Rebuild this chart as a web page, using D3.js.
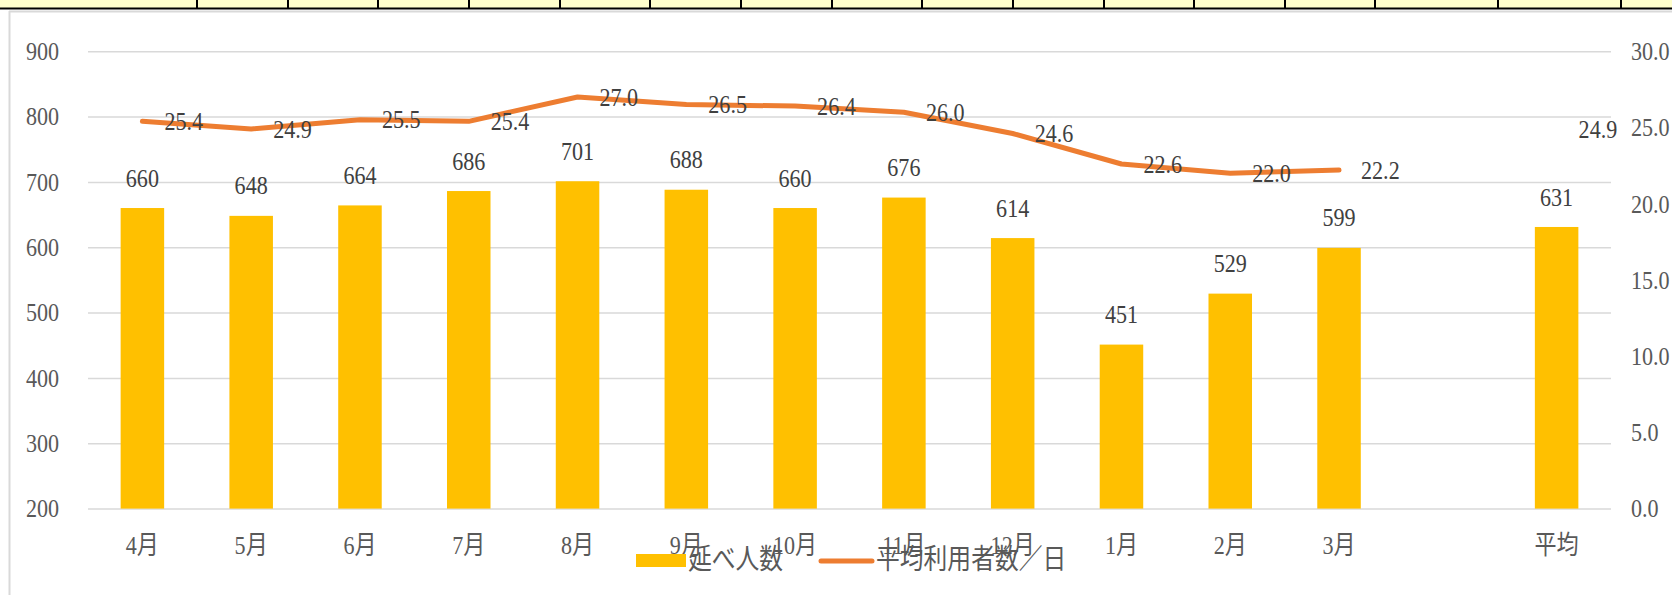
<!DOCTYPE html>
<html><head><meta charset="utf-8">
<script src="https://cdn.jsdelivr.net/npm/d3@7"></script>
<style>
html,body{margin:0;padding:0;background:#fff;}
svg{display:block;}
text{font-family:"Liberation Serif","Noto Sans CJK JP",serif;}
</style></head>
<body>
<svg id="c" width="1672" height="595"></svg>
<script>
const categories = ["4月","5月","6月","7月","8月","9月","10月","11月","12月","1月","2月","3月","","平均"];
const totals = [660,648,664,686,701,688,660,676,614,451,529,599,null,631];
const perDay = [25.4,24.9,25.5,25.4,27.0,26.5,26.4,26.0,24.6,22.6,22.0,22.2,null,24.9];
const leftTicks = [200,300,400,500,600,700,800,900];
const rightTicks = [0,5,10,15,20,25,30];
const seriesNames = ["延べ人数","平均利用者数／日"];
const cellDividers = [197,288,378,469,560,650,741,832,922,1013,1104,1194,1285,1375,1498,1621];

const svg = d3.select("#c");
const W = 1672, H = 595;
const m = {l:88, r:1611, t:51.2, b:508.6};
const fs = 26, sx = 0.85;

function condense(sel){
  sel.each(function(){
    const t = d3.select(this);
    const x = +t.attr("x") || 0, y = +t.attr("y") || 0;
    t.attr("transform",`translate(${x},${y}) scale(${sx},1) translate(${-x},${-y})`);
  });
}

// spreadsheet strip on top
svg.append("rect").attr("x",0).attr("y",0).attr("width",W).attr("height",8).attr("fill","#FFFFCC");
svg.append("line").attr("x1",0).attr("x2",W).attr("y1",8.5).attr("y2",8.5).attr("stroke","#000").attr("stroke-width",2);
svg.selectAll("line.cell").data(cellDividers).join("line").attr("class","cell")
  .attr("x1",d=>d).attr("x2",d=>d).attr("y1",0).attr("y2",9).attr("stroke","#000").attr("stroke-width",2);
// chart area border
svg.append("line").attr("x1",9).attr("x2",W).attr("y1",11.5).attr("y2",11.5).attr("stroke","#d9d9d9").attr("stroke-width",2);
svg.append("line").attr("x1",9.5).attr("x2",9.5).attr("y1",11).attr("y2",H).attr("stroke","#d9d9d9").attr("stroke-width",2);

const x = d3.scaleBand().domain(categories).range([m.l,m.r]).paddingInner(0.6).paddingOuter(0.3);
const yL = d3.scaleLinear().domain([200,900]).range([m.b,m.t]);
const yR = d3.scaleLinear().domain([0,30]).range([m.b,m.t]);
const cx = d => x(d)+x.bandwidth()/2;

// gridlines
const grid = svg.append("g").attr("transform",`translate(${m.l},0)`)
  .call(d3.axisLeft(yL).tickValues(leftTicks).tickSize(-(m.r-m.l)).tickFormat(""));
grid.select(".domain").remove();
grid.selectAll(".tick line").attr("stroke","#d9d9d9").attr("stroke-width",1.5);

// left axis labels
const ax = svg.append("g").attr("transform",`translate(${m.l},0)`)
  .call(d3.axisLeft(yL).tickValues(leftTicks).tickSize(0).tickPadding(29).tickFormat(d3.format("d")));
ax.select(".domain").remove();
ax.selectAll("text").attr("font-size",fs).attr("fill","#595959").attr("font-family",null).call(condense);
// right axis labels
const axr = svg.append("g").attr("transform",`translate(${m.r},0)`)
  .call(d3.axisRight(yR).tickValues(rightTicks).tickSize(0).tickPadding(20).tickFormat(d3.format(".1f")));
axr.select(".domain").remove();
axr.selectAll("text").attr("font-size",fs).attr("fill","#595959").attr("font-family",null).call(condense);

const data = categories.map((c,i)=>({c, t:totals[i], p:perDay[i]}));

// bars
svg.selectAll("rect.bar").data(data.filter(d=>d.t!=null)).join("rect").attr("class","bar")
  .attr("x",d=>x(d.c)).attr("width",x.bandwidth())
  .attr("y",d=>yL(d.t)).attr("height",d=>yL(200)-yL(d.t)).attr("fill","#FFC000");

// bar labels
svg.selectAll("text.bl").data(data.filter(d=>d.t!=null)).join("text").attr("class","bl")
  .attr("x",d=>cx(d.c)).attr("y",d=>yL(d.t)-30).attr("text-anchor","middle").attr("dominant-baseline","central")
  .attr("font-size",fs).attr("fill","#404040").text(d=>d.t).call(condense);

// category labels
svg.selectAll("text.cat").data(data).join("text").attr("class","cat")
  .attr("x",d=>cx(d.c)).attr("y",545).attr("text-anchor","middle").attr("dominant-baseline","central")
  .attr("font-size",fs).attr("fill","#595959").text(d=>d.c).call(condense);

// line
const line = d3.line().defined(d=>d.p!=null).x(d=>cx(d.c)).y(d=>yR(d.p));
svg.append("path").datum(data.slice(0,12)).attr("d",line).attr("fill","none")
  .attr("stroke","#ED7D31").attr("stroke-width",5).attr("stroke-linejoin","round").attr("stroke-linecap","round");

// line labels (right of point)
svg.selectAll("text.ll").data(data.filter(d=>d.p!=null)).join("text").attr("class","ll")
  .attr("x",d=>cx(d.c)+22).attr("y",d=>yR(d.p)).attr("dominant-baseline","central")
  .attr("font-size",fs).attr("fill","#404040").text(d=>d3.format(".1f")(d.p)).call(condense);

// legend
const lg = svg.append("g");
lg.append("rect").attr("x",636).attr("y",554).attr("width",50).attr("height",13).attr("fill","#FFC000");
lg.append("text").attr("x",688).attr("y",560).attr("dominant-baseline","central").attr("font-size",28).attr("fill","#595959").text(seriesNames[0]).call(condense);
lg.append("line").attr("x1",821).attr("x2",872).attr("y1",561).attr("y2",561).attr("stroke","#ED7D31").attr("stroke-width",5).attr("stroke-linecap","round");
lg.append("text").attr("x",876).attr("y",560).attr("dominant-baseline","central").attr("font-size",28).attr("fill","#595959").text(seriesNames[1]).call(condense);
</script>
</body></html>
